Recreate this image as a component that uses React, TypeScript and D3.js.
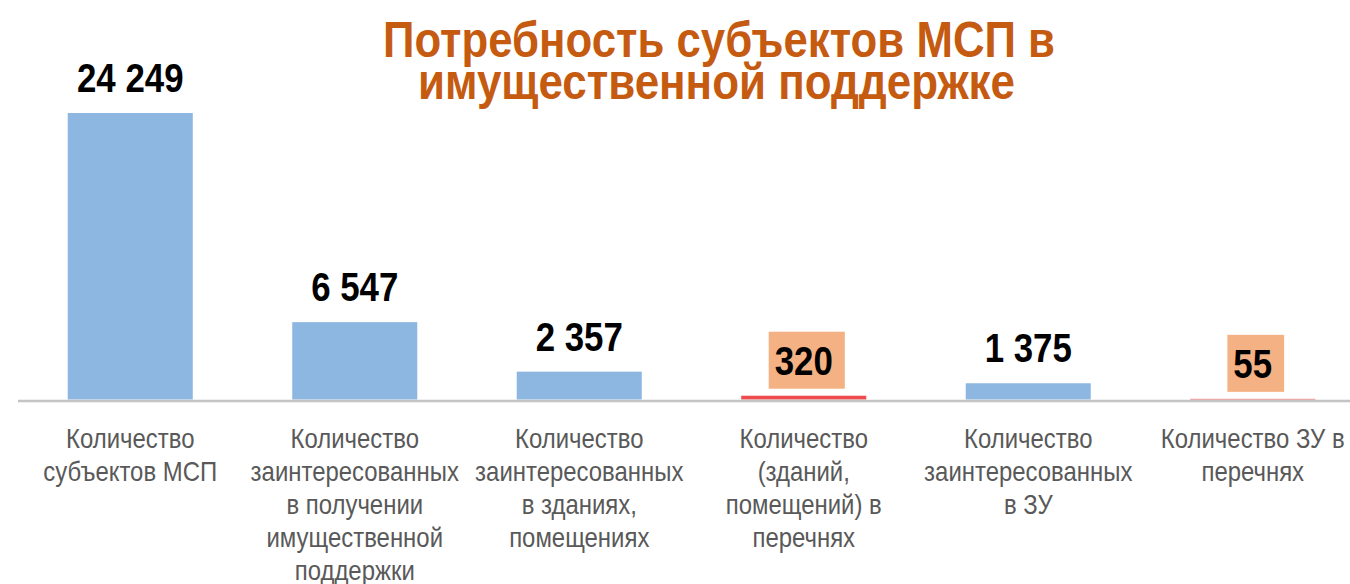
import React, { useEffect, useRef } from 'react';
import * as d3 from 'd3';

// chart data
const categories = [
  ['Количество', 'субъектов МСП'],
  ['Количество', 'заинтересованных', 'в получении', 'имущественной', 'поддержки'],
  ['Количество', 'заинтересованных', 'в зданиях,', 'помещениях'],
  ['Количество', '(зданий,', 'помещений) в', 'перечнях'],
  ['Количество', 'заинтересованных', 'в ЗУ'],
  ['Количество ЗУ в', 'перечнях'],
];
const values = [24249, 6547, 2357, 320, 1375, 55];
const highlighted = [false, false, false, true, false, true];
const titleLines = ['Потребность субъектов МСП в', 'имущественной поддержке'];

const font = '"Liberation Sans", Arial, sans-serif';

const fmt = (v: number) => d3.format(',')(v).replace(/,/g, ' ');

const App = () => {
  const ref = useRef<SVGSVGElement | null>(null);

  useEffect(() => {
    const svg = d3.select(ref.current);
    svg.selectAll('*').remove();

    const width = 1350;
    const height = 584;
    const baseline = 399.5;

    const x = d3.scaleBand()
      .domain(categories.map((_, i) => String(i)))
      .range([18, 1365])
      .paddingInner(0.443)
      .paddingOuter(0.2215);

    const y = d3.scaleLinear()
      .domain([0, 24249])
      .range([baseline, 113]);

    const cx = (i: number) => (x(String(i)) as number) + x.bandwidth() / 2;

    svg.attr('width', width).attr('height', height);

    // title (narrow bold look via textLength)
    const titleWidths = [672, 597];
    svg.selectAll('.title')
      .data(titleLines)
      .enter().append('text')
      .attr('class', 'title')
      .attr('x', (d, i) => (i === 0 ? 719 : 716.5))
      .attr('y', (d, i) => 57 + i * 42)
      .attr('text-anchor', 'middle')
      .attr('textLength', (d, i) => titleWidths[i])
      .attr('lengthAdjust', 'spacingAndGlyphs')
      .attr('fill', '#C55A11')
      .style('font-family', font)
      .style('font-weight', 'bold')
      .style('font-size', '50px')
      .text(d => d);

    // bars
    svg.selectAll('.bar')
      .data(values)
      .enter().append('rect')
      .attr('class', 'bar')
      .attr('x', (d, i) => x(String(i)) as number)
      .attr('y', d => y(d))
      .attr('width', x.bandwidth())
      .attr('height', d => baseline - y(d))
      .attr('fill', (d, i) => (highlighted[i] ? '#EE4B4F' : '#8DB7E1'));

    // axis line
    svg.append('line')
      .attr('x1', 18)
      .attr('x2', width)
      .attr('y1', 401)
      .attr('y2', 401)
      .attr('stroke', '#C4C4C4')
      .attr('stroke-width', 2.5);

    // value labels
    const labels = svg.selectAll('.val')
      .data(values)
      .enter().append('g')
      .attr('class', 'val')
      .attr('transform', (d, i) => `translate(${cx(i)},${y(d) - 21})`);

    labels.each(function (d, i) {
      const g = d3.select(this);
      const box = g.append('rect').attr('fill', '#F4B183');
      const t = g.append('text')
        .attr('text-anchor', 'middle')
        .attr('transform', 'scale(0.85,1)')
        .attr('fill', '#000')
        .style('font-family', font)
        .style('font-weight', 'bold')
        .style('font-size', '41px')
        .text(fmt(d));
      if (highlighted[i]) {
        const w = (t.node() as SVGTextElement).getBBox().width * 0.85 + 18;
        box.attr('x', -w / 2 + 3)
          .attr('y', -43)
          .attr('width', w)
          .attr('height', 57);
      } else {
        box.remove();
      }
    });

    // category labels
    svg.selectAll('.cat')
      .data(categories)
      .enter().append('text')
      .attr('class', 'cat')
      .attr('text-anchor', 'middle')
      .attr('transform', (d, i) => `translate(${cx(i)},448) scale(0.84,1)`)
      .attr('fill', '#595959')
      .style('font-family', font)
      .style('font-size', '28.5px')
      .selectAll('tspan')
      .data(lines => lines)
      .enter().append('tspan')
      .attr('x', 0)
      .attr('y', (d, j) => j * 33)
      .text(d => d);
  }, []);

  return (
    <div style={{ position: 'absolute', left: 0, top: 0 }}>
      <svg ref={ref} style={{ display: 'block' }} />
    </div>
  );
};

export default App;
